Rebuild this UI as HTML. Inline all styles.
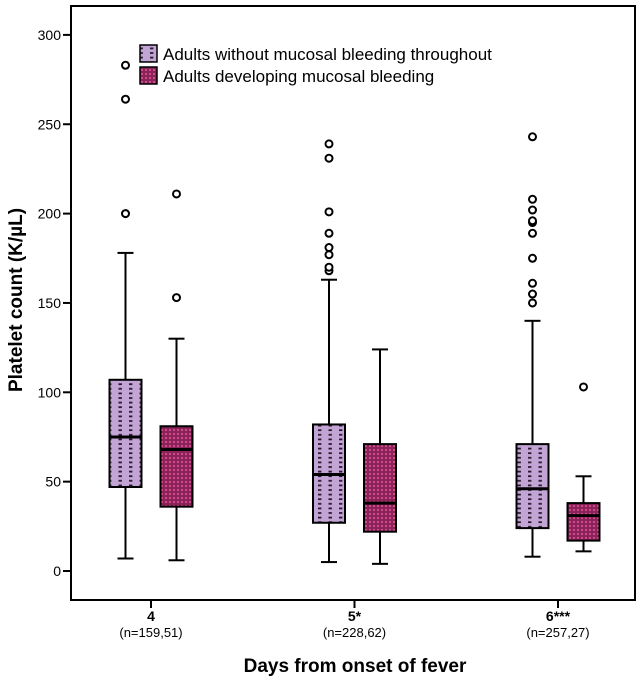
<!DOCTYPE html>
<html><head><meta charset="utf-8"><style>
body{margin:0;background:#fff;font-family:"Liberation Sans",Arial,sans-serif}
svg text{font-family:"Liberation Sans",Arial,sans-serif}
</style></head><body>
<svg id="chart" width="642" height="684" viewBox="0 0 642 684" xmlns="http://www.w3.org/2000/svg">
<defs>
<pattern id="pLight" x="0" y="0" width="10.5" height="4.6" patternUnits="userSpaceOnUse">
<rect width="10.5" height="4.6" fill="#c2a5d5"/><rect x="3" y="1.5" width="3.4" height="1.8" fill="#2a1a30"/>
</pattern>
<pattern id="pDark" width="4" height="4" patternUnits="userSpaceOnUse">
<rect width="4" height="4" fill="#8a2357"/><circle cx="2" cy="2" r="1.1" fill="#d84c92"/>
</pattern>
</defs>
<rect x="71" y="6" width="564" height="594" fill="none" stroke="#000" stroke-width="2"/>
<g id="yaxis"></g>
<g id="xaxis"></g>
<g id="boxes"></g>
<text transform="translate(22,300) rotate(-90)" text-anchor="middle" font-size="19" font-weight="bold">Platelet count (K/µL)</text>
<text x="355" y="672" text-anchor="middle" font-size="19" font-weight="bold">Days from onset of fever</text>
<g>
<g>
<rect x="140" y="45" width="17" height="17" fill="url(#pLight)" stroke="#000" stroke-width="1.5"/>
<text x="163" y="60" font-size="17">Adults without mucosal bleeding throughout</text></g>
<g>
<rect x="140" y="67" width="17" height="17" fill="url(#pDark)" stroke="#000" stroke-width="1.5"/>
<text x="163" y="82" font-size="17">Adults developing mucosal bleeding</text></g>
</g>
</svg>
<script>
const yTicks=[0,50,100,150,200,250,300];
const categories=["4","5*","6***"];
const nLabels=["(n=159,51)","(n=228,62)","(n=257,27)"];
// [whiskerLow, q1, median, q3, whiskerHigh]
const noBleed=[[7,47,75,107,178],[5,27,54,82,163],[8,24,46,71,140]];
const bleed=[[6,36,68,81,130],[4,22,38,71,124],[11,17,31,38,53]];
const noBleedOutliers=[[200,264,283],[168,170,177,181,189,201,231,239],[150,155,161,175,189,195,196,202,208,243]];
const bleedOutliers=[[153,211],[],[103]];
const NS="http://www.w3.org/2000/svg";
const y=v=>571-v*1.787;
const x=i=>151+i*203.5;
function mk(t,a,p){const e=document.createElementNS(NS,t);for(const k in a)e.setAttribute(k,a[k]);p.appendChild(e);return e;}
const ya=document.getElementById('yaxis');
yTicks.forEach(v=>{
 const l=mk('line',{x1:63,x2:71,y1:y(v),y2:y(v),stroke:'#000','stroke-width':2},ya);
 
 
 const t=mk('text',{x:61,y:y(v)+5,'text-anchor':'end','font-size':14},ya);
 
 
 t.textContent=v;
});
const xa=document.getElementById('xaxis');
categories.forEach((c,i)=>{
 const l=mk('line',{x1:x(i),x2:x(i),y1:600,y2:608,stroke:'#000','stroke-width':2},xa);
 
 
 const t=mk('text',{x:x(i),y:621,'text-anchor':'middle','font-size':14,'font-weight':'bold'},xa);
 
 
 t.textContent=c;
 const n=mk('text',{x:x(i),y:637,'text-anchor':'middle','font-size':13},xa);
 
 
 n.textContent=nLabels[i];
});
const bx=document.getElementById('boxes');
function drawBox(cx,s,fill,outs,name){
 const g=mk('g',{},bx);
 
 
 const w=32;
 mk('line',{x1:cx,x2:cx,y1:y(s[0]),y2:y(s[4]),stroke:'#000','stroke-width':2},g);
 mk('line',{x1:cx-8,x2:cx+8,y1:y(s[0]),y2:y(s[0]),stroke:'#000','stroke-width':2},g);
 mk('line',{x1:cx-8,x2:cx+8,y1:y(s[4]),y2:y(s[4]),stroke:'#000','stroke-width':2},g);
 const r=mk('rect',{x:cx-w/2,y:y(s[3]),width:w,height:y(s[1])-y(s[3]),fill:fill,stroke:'#000','stroke-width':2},g);
 mk('line',{x1:cx-w/2,x2:cx+w/2,y1:y(s[2]),y2:y(s[2]),stroke:'#000','stroke-width':3},g);
 outs.forEach(o=>{
  const c=mk('circle',{cx:cx,cy:y(o),r:3.5,fill:'#fff',stroke:'#000','stroke-width':2},g);
  
  
 });
}
categories.forEach((c,i)=>{
 drawBox(x(i)-25.5,noBleed[i],'url(#pLight)',noBleedOutliers[i],'box-no-bleeding-day-'+(i+4));
 drawBox(x(i)+25.5,bleed[i],'url(#pDark)',bleedOutliers[i],'box-bleeding-day-'+(i+4));
});
</script>
</body></html>
